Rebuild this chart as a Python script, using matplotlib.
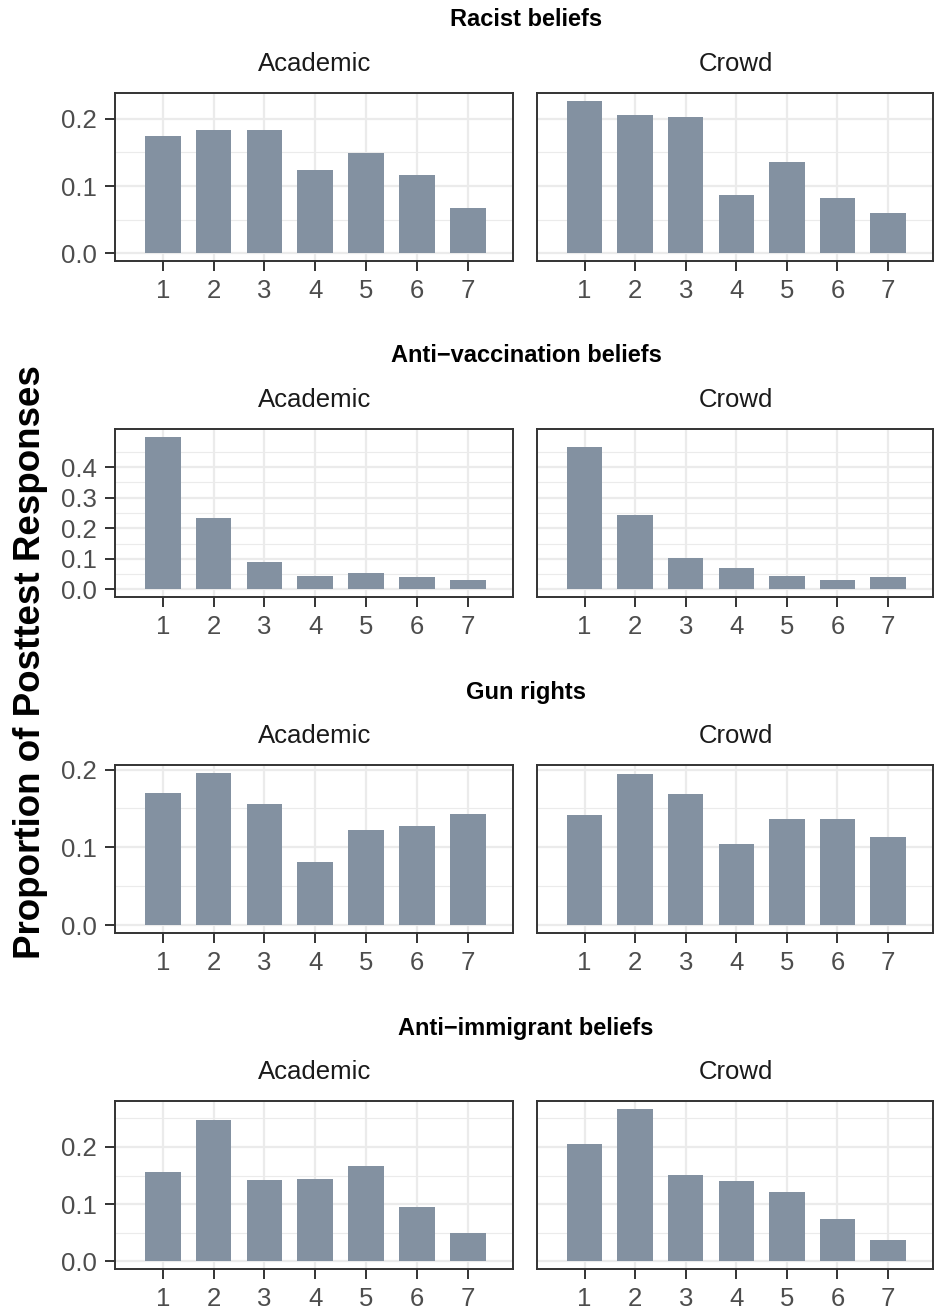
import matplotlib
matplotlib.use("Agg")
import matplotlib.pyplot as plt
import numpy as np
from matplotlib.ticker import FixedLocator

plt.rcParams['font.family'] = ['Liberation Sans', 'DejaVu Sans']

W, H = 935, 1311
DPI = 100

responses = [1, 2, 3, 4, 5, 6, 7]
sections = ["Racist beliefs", "Anti\u2212vaccination beliefs", "Gun rights", "Anti\u2212immigrant beliefs"]
groups = ["Academic", "Crowd"]

racist_academic = [0.175, 0.183, 0.184, 0.124, 0.149, 0.116, 0.068]
racist_crowd = [0.227, 0.205, 0.202, 0.087, 0.136, 0.083, 0.060]
vacc_academic = [0.500, 0.234, 0.091, 0.045, 0.055, 0.042, 0.032]
vacc_crowd = [0.467, 0.243, 0.104, 0.071, 0.045, 0.032, 0.039]
gun_academic = [0.170, 0.196, 0.156, 0.081, 0.122, 0.128, 0.143]
gun_crowd = [0.141, 0.194, 0.168, 0.105, 0.137, 0.137, 0.113]
immig_academic = [0.156, 0.248, 0.142, 0.144, 0.166, 0.095, 0.050]
immig_crowd = [0.206, 0.267, 0.151, 0.140, 0.121, 0.074, 0.038]

data = [
    (racist_academic, racist_crowd),
    (vacc_academic, vacc_crowd),
    (gun_academic, gun_crowd),
    (immig_academic, immig_crowd),
]
major_ticks = [
    [0.0, 0.1, 0.2],
    [0.0, 0.1, 0.2, 0.3, 0.4],
    [0.0, 0.1, 0.2],
    [0.0, 0.1, 0.2],
]

BAR = '#8391A1'
GRID = '#EBEBEB'
DARK = '#333333'
TICKTXT = '#4D4D4D'

fig = plt.figure(figsize=(W / DPI, H / DPI), dpi=DPI)

def fx(px):
    return px / W

def fy(py):
    return 1 - py / H

panel_x = [(115, 513), (537, 933)]
row_tops = [93, 429, 765, 1101]
ph = 168

for r in range(4):
    top = row_tops[r]
    vals_pair = data[r]
    ymax = max(max(vals_pair[0]), max(vals_pair[1]))
    ylo, yhi = -0.05 * ymax, ymax * 1.05
    fig.text(fx(526), fy(top - 73), sections[r], ha='center', va='center',
             fontsize=17, fontweight='bold', color='black')
    for c in range(2):
        x0, x1 = panel_x[c]
        ax = fig.add_axes([fx(x0), fy(top + ph), fx(x1) - fx(x0), ph / H])
        ax.set_facecolor('white')
        ax.bar(responses, vals_pair[c], width=0.7, color=BAR, zorder=3)
        ax.set_xlim(0.06, 7.89)
        ax.set_ylim(ylo, yhi)
        ax.xaxis.set_major_locator(FixedLocator(responses))
        ax.yaxis.set_major_locator(FixedLocator(major_ticks[r]))
        minor = np.arange(0.05, yhi, 0.1)
        ax.yaxis.set_minor_locator(FixedLocator(list(minor)))
        ax.grid(True, which='major', color=GRID, linewidth=1.6, zorder=0)
        ax.grid(True, which='minor', axis='y', color=GRID, linewidth=0.8, zorder=0)
        ax.set_axisbelow(True)
        for s in ax.spines.values():
            s.set_color(DARK)
            s.set_linewidth(1.4)
            s.set_zorder(5)
        ax.tick_params(axis='both', which='major', length=7, width=1.4, color=DARK,
                       labelsize=18.5, labelcolor=TICKTXT, pad=6)
        ax.tick_params(axis='y', which='minor', length=0)
        ax.set_xticklabels([str(v) for v in responses])
        if c == 0:
            ax.set_yticklabels([f"{v:.1f}" for v in major_ticks[r]])
        else:
            ax.tick_params(axis='y', which='both', left=False, labelleft=False)
        fig.text(fx((x0 + x1) / 2 + 1), fy(top - 29), groups[c], ha='center', va='center',
                 fontsize=18.5, color='#1A1A1A')

fig.text(fx(31), fy(662), "Proportion of Posttest Responses", rotation=90,
         ha='center', va='center', fontsize=26.5, fontweight='bold', color='black')

fig.savefig("out.png", dpi=DPI, facecolor='white')
